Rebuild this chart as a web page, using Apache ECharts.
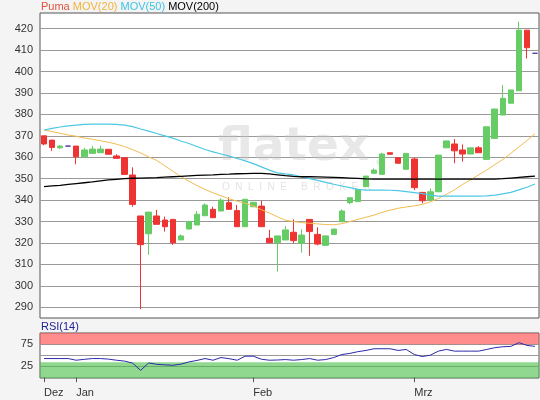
<!DOCTYPE html>
<html><head><meta charset="utf-8">
<script src="https://cdn.jsdelivr.net/npm/echarts@6/dist/echarts.min.js"></script>
<style>html,body{margin:0;padding:0;background:#f4f4f4;}#c{width:540px;height:400px;}</style>
</head><body><div id="c"></div>
<script>
const dates = [
 '2022-12-27','2022-12-28','2022-12-29','2022-12-30',
 '2023-01-02','2023-01-03','2023-01-04','2023-01-05','2023-01-06','2023-01-09','2023-01-10','2023-01-11','2023-01-12','2023-01-13',
 '2023-01-16','2023-01-17','2023-01-18','2023-01-19','2023-01-20','2023-01-23','2023-01-24','2023-01-25','2023-01-26','2023-01-27','2023-01-30','2023-01-31',
 '2023-02-01','2023-02-02','2023-02-03','2023-02-06','2023-02-07','2023-02-08','2023-02-09','2023-02-10','2023-02-13','2023-02-14',
 '2023-02-15','2023-02-16','2023-02-17','2023-02-20','2023-02-21','2023-02-22','2023-02-23','2023-02-24','2023-02-27','2023-02-28',
 '2023-03-01','2023-03-02','2023-03-03','2023-03-06','2023-03-07','2023-03-08','2023-03-09','2023-03-10','2023-03-13','2023-03-14',
 '2023-03-15','2023-03-16','2023-03-17','2023-03-20','2023-03-21','2023-03-22'
];
const opens = [370.0,368.0,364.4,365.2,365.2,360.2,361.8,362.1,363.7,360.6,359.8,351.7,332.6,324.3,332.6,330.7,331.0,321.4,326.5,328.4,
 332.7,335.7,334.9,338.8,335.1,327.6,336.9,337.2,322.2,320.1,321.4,325.0,319.9,331.0,324.0,318.9,324.0,329.9,338.8,339.3,
 346.3,352.5,352.0,362.1,359.8,354.4,359.2,343.6,340.0,343.9,364.4,366.2,363.4,361.5,364.4,359.0,368.8,379.7,385.2,391.0,419.3,408.5];
const closes = [366.2,364.6,365.2,365.2,360.2,363.4,363.8,363.8,361.4,359.5,352.0,338.0,319.2,334.4,328.7,327.6,320.1,323.3,330.0,333.4,
 337.7,331.8,340.0,335.7,327.6,340.4,339.0,327.6,320.1,323.3,326.1,321.1,323.7,325.3,319.5,323.3,326.5,334.9,341.1,345.0,
 351.2,354.0,361.5,361.4,357.2,361.8,345.8,339.7,343.9,361.0,367.6,363.0,361.5,364.4,362.1,374.2,382.5,387.5,391.4,419.3,411.1,408.5];
const lows = [365.6,363.0,363.8,365.2,356.7,360.2,361.8,362.1,361.4,359.5,352.0,336.9,289.1,314.5,328.7,325.3,319.1,321.4,326.5,328.4,
 332.7,331.8,334.9,335.7,327.6,327.6,336.9,327.6,320.1,306.6,321.4,319.9,315.5,314.0,318.9,318.9,324.0,329.9,338.2,339.3,
 346.3,352.5,352.0,361.4,357.2,354.4,344.7,338.5,340.0,343.9,364.4,357.2,357.9,361.5,362.1,359.0,368.8,379.7,385.2,391.0,406.1,408.5];
const highs = [370.0,368.0,365.6,365.2,365.2,364.4,365.2,365.4,363.7,361.4,359.8,355.3,332.6,334.4,335.4,332.3,331.0,324.0,330.4,334.9,
 338.5,336.9,340.8,341.3,337.7,340.4,339.0,339.7,326.1,323.3,327.9,331.0,326.4,331.0,327.3,323.3,326.5,335.7,341.1,345.0,
 351.2,354.8,362.1,362.1,359.8,361.8,359.8,343.6,345.5,361.0,367.6,368.5,366.0,364.4,365.2,374.2,382.5,393.7,391.4,423.2,419.3,408.5];
const mov20 = [372.7,372.0,371.2,370.4,369.8,369.0,368.4,367.7,367.0,366.1,365.0,363.6,362.0,360.2,358.5,356.0,353.5,351.0,348.8,346.8,
 345.0,343.4,342.0,340.6,339.5,338.5,337.3,335.5,334.0,332.2,330.6,330.0,329.5,329.2,328.9,328.6,328.5,329.0,330.0,331.0,
 332.0,333.0,334.3,335.3,336.2,336.8,337.3,338.0,339.2,340.8,342.7,344.8,347.3,349.5,351.8,354.0,356.5,359.0,361.8,364.8,367.8,371.0];
const mov50 = [372.7,373.5,374.1,374.6,375.0,375.3,375.5,375.5,375.5,375.3,375.0,374.3,373.2,372.2,371.1,370.0,368.9,367.6,366.4,365.0,
 363.6,362.5,361.5,360.5,359.4,358.3,357.0,355.5,354.0,352.7,352.2,351.8,350.8,350.0,349.2,348.3,347.4,346.6,345.8,345.0,
 344.7,344.7,344.7,344.6,344.4,344.0,343.5,343.0,342.3,341.9,341.9,341.9,341.9,341.9,341.9,342.0,342.3,342.9,343.6,344.8,346.0,347.5];
const mov200 = [346.3,346.6,346.9,347.3,347.7,348.1,348.5,349.0,349.4,349.7,350.0,350.2,350.3,350.4,350.5,350.7,350.9,351.1,351.3,351.5,
 351.7,351.8,352.0,352.1,352.3,352.4,352.5,352.5,352.2,351.8,351.4,351.1,350.9,350.9,350.8,350.7,350.6,350.5,350.3,350.1,
 349.9,349.8,349.8,349.8,349.8,349.8,349.8,349.8,349.8,349.8,349.8,349.8,349.8,349.8,349.8,349.8,349.8,350.0,350.3,350.6,350.9,351.2];
const rsi14 = [42.3,42.3,42.3,42.3,38.5,40.5,42.3,42.3,41.0,38.5,36.5,32.0,15.4,32.3,29.2,28.0,26.9,29.5,34.6,38.0,
 42.3,38.5,44.6,42.0,38.5,47.7,47.7,40.8,38.5,39.0,40.0,38.5,40.0,42.3,38.5,40.0,44.6,51.5,54.0,58.0,
 60.8,64.6,64.6,64.6,60.8,63.1,51.5,46.9,50.0,59.2,63.1,59.2,59.2,59.2,59.2,63.0,67.0,69.2,70.0,78.5,72.3,70.0];
const priceTicks = [290,300,310,320,330,340,350,360,370,380,390,400,410,420];
const rsiLabelTicks = [25,75];
const rsiLines = [25,50,75];
const monthNames = {'12':'Dez','01':'Jan','02':'Feb','03':'Mrz'};

const FONT = 'Liberation Sans, Arial, sans-serif';
const isMonthStart = (i) => i === 0 || dates[i].slice(5,7) !== dates[i-1].slice(5,7);
const candleData = dates.map((d,i) => [opens[i], closes[i], lows[i], highs[i]]);

const chart = echarts.init(document.getElementById('c'), null, {renderer:'canvas'});
chart.setOption({
  animation: false,
  backgroundColor: '#f4f4f4',
  title: [{
    left: 41, top: 1, padding: 0,
    text: '{p|Puma} {a|MOV(20)} {b|MOV(50)} {c|MOV(200)}',
    textStyle: { fontSize: 11, fontFamily: FONT, fontWeight: 'normal',
      rich: { p:{color:'#e0543c',fontSize:11,fontFamily:FONT}, a:{color:'#f0b43c',fontSize:11,fontFamily:FONT},
              b:{color:'#3cc4e4',fontSize:11,fontFamily:FONT}, c:{color:'#000',fontSize:11,fontFamily:FONT} } }
  },{
    left: 41, top: 321, padding: 0, text: 'RSI(14)',
    textStyle: { fontSize: 11, fontFamily: FONT, fontWeight: 'normal', color: '#22229a' }
  }],
  graphic: [
    { type:'text', left: 218, top: 124, z: 1, silent: true,
      style: { text: 'flatex', fontSize: 47, fontWeight: 'bold', fontFamily: 'DejaVu Sans', fill: 'rgba(200,200,200,0.42)' } },
    { type:'circle', shape:{cx: 380, cy: 162, r: 3.5}, z: 1, silent: true, style:{fill:'rgba(200,200,200,0.42)'} },
    { type:'text', left: 222, top: 182, z: 1, silent: true,
      style: { text: 'O  N  L  I  N  E     B  R  O  K  E  R', fontSize: 10, fontFamily: FONT, fill: 'rgba(200,200,200,0.5)' } }
  ],
  grid: [
    { left: 40, right: 1, top: 13, height: 305, show: true, backgroundColor: '#fff', borderColor: '#555', borderWidth: 1 },
    { left: 40, right: 1, top: 333, height: 45, show: true, backgroundColor: '#fff', borderColor: '#555', borderWidth: 1 }
  ],
  xAxis: [
    { type:'category', gridIndex:0, data: dates, boundaryGap: true,
      axisLine:{show:false}, axisTick:{show:false}, axisLabel:{show:false}, splitLine:{show:false} },
    { type:'category', gridIndex:1, data: dates, boundaryGap: true,
      axisLine:{show:false},
      axisTick:{show:true, alignWithLabel:true, interval: (i) => isMonthStart(i), length: 5, lineStyle:{color:'#555'}},
      axisLabel:{show:true, interval: (i) => isMonthStart(i), align:'left', margin: 9, color:'#333', fontSize: 11, fontFamily: FONT,
        formatter: (v) => monthNames[v.slice(5,7)] },
      splitLine:{show:false} }
  ],
  yAxis: [
    { type:'value', gridIndex:0, min:285, max:427.3, position:'left',
      axisLine:{show:false}, axisTick:{show:false, customValues: priceTicks},
      axisLabel:{customValues: priceTicks, color:'#333', fontSize:11, fontFamily: FONT, margin: 7},
      splitLine:{show:true, lineStyle:{color:'#999', width:1}} },
    { type:'value', gridIndex:1, min:-2, max:100.5, position:'left',
      axisLine:{show:false}, axisTick:{show:false, customValues: rsiLines},
      axisLabel:{customValues: rsiLabelTicks, color:'#333', fontSize:11, fontFamily: FONT, margin: 7},
      splitLine:{show:true, lineStyle:{color:'#999', width:1}} }
  ],
  series: [
    { type:'candlestick', name:'Puma', xAxisIndex:0, yAxisIndex:0, data: candleData, barWidth: 6, z: 3,
      itemStyle:{ color:'#66cc66', color0:'#ee3333', borderColor:'#66cc66', borderColor0:'#ee3333', borderColorDoji:'#4a3aa0', borderWidth:1 } },
    { type:'line', name:'MOV(20)', xAxisIndex:0, yAxisIndex:0, data: mov20, symbol:'none', z: 4,
      lineStyle:{color:'#f2bc50', width:1} },
    { type:'line', name:'MOV(50)', xAxisIndex:0, yAxisIndex:0, data: mov50, symbol:'none', z: 4,
      lineStyle:{color:'#4cc8e4', width:1.2} },
    { type:'line', name:'MOV(200)', xAxisIndex:0, yAxisIndex:0, data: mov200, symbol:'none', z: 4,
      lineStyle:{color:'#000', width:1.3} },
    { type:'line', name:'RSI(14)', xAxisIndex:1, yAxisIndex:1, data: rsi14, symbol:'none', z: 4,
      lineStyle:{color:'#2a2aa8', width:1},
      markArea:{ silent:true, data:[
        [{yAxis:75, itemStyle:{color:'rgba(255,80,80,0.65)'}}, {yAxis:100.5}],
        [{yAxis:-2, itemStyle:{color:'rgba(70,190,70,0.6)'}}, {yAxis:34}]
      ]} }
  ]
});
</script></body></html>
